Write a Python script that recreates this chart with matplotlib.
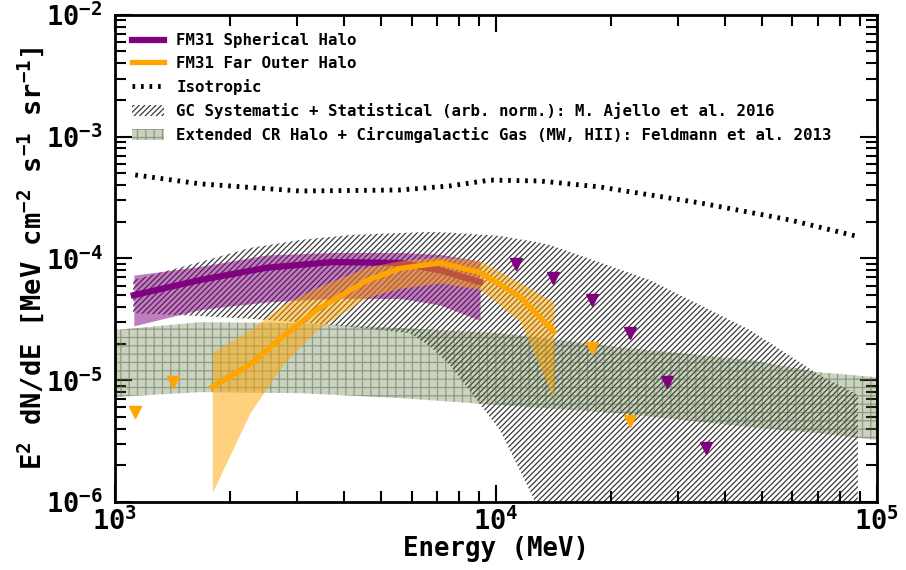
import matplotlib
matplotlib.use("Agg")
import matplotlib.pyplot as plt

# isotropic background
E_iso = [1130, 1670, 3060, 5600, 7570, 9640, 13000, 18700, 34300, 59100, 90200]
f_iso = [4.85e-4, 4.1e-4, 3.58e-4, 3.65e-4, 3.94e-4, 4.4e-4, 4.33e-4, 3.87e-4, 2.86e-4, 2.07e-4, 1.5e-4]

# FM31 spherical halo
E_sph = [1120, 1670, 2500, 3730, 5600, 7130, 9080]
f_sph = [5.0e-5, 6.65e-5, 8.4e-5, 9.35e-5, 9.2e-5, 8.0e-5, 6.4e-5]
f_sph_hi = [7.3e-5, 8.6e-5, 1.07e-4, 1.12e-4, 1.12e-4, 1.08e-4, 9.5e-5]
f_sph_lo = [2.8e-5, 3.8e-5, 4.4e-5, 4.7e-5, 4.7e-5, 4.15e-5, 3.1e-5]
E_sph_ul = [11270, 14130, 17860, 22500, 28100, 35600]
f_sph_ul = [9.0e-5, 6.9e-5, 4.56e-5, 2.44e-5, 9.7e-6, 2.78e-6]

# FM31 far outer halo
E_far = [1800, 2260, 2760, 3390, 4580, 5600, 7130, 9080, 11600, 14200]
f_far = [8.8e-6, 1.35e-5, 2.3e-5, 3.8e-5, 6.6e-5, 8.3e-5, 9.2e-5, 7.7e-5, 4.8e-5, 2.5e-5]
f_far_hi = [1.7e-5, 2.6e-5, 4.2e-5, 5.8e-5, 8.5e-5, 9.6e-5, 1.03e-4, 9.6e-5, 6.3e-5, 4.4e-5]
f_far_lo = [1.2e-6, 5.4e-6, 1.35e-5, 2.6e-5, 4.8e-5, 5.7e-5, 6.3e-5, 5.6e-5, 3.0e-5, 7.0e-6]
E_far_ul = [1128, 1420, 17860, 22500]
f_far_ul = [5.48e-6, 9.7e-6, 1.84e-5, 4.62e-6]

# GC excess band (Ajello et al. 2016)
E_gc = [1115, 1670, 2260, 3060, 4140, 5940, 6710, 7570, 10240, 12500, 13870, 25350, 46400, 70800, 89100]
f_gc_hi = [6.65e-5, 9.35e-5, 1.22e-4, 1.42e-4, 1.56e-4, 1.63e-4, 1.65e-4, 1.63e-4, 1.53e-4, 1.38e-4,
           1.29e-4, 6.65e-5, 2.59e-5, 1.1e-5, 7.6e-6]
f_gc_lo = [3.56e-5, 3.37e-5, 3.2e-5, 3.0e-5, 2.75e-5, 2.44e-5, 1.9e-5, 1.33e-5, 3.9e-6, 1.1e-6,
           5e-7, 1e-7, 1e-7, 1e-7, 1e-7]

# extended CR halo + CGM (Feldmann et al. 2013)
E_cr = [1000, 1670, 3060, 5600, 10240, 20800, 46400, 69700, 100000]
f_cr_hi = [2.59e-5, 3.0e-5, 2.95e-5, 2.69e-5, 2.44e-5, 1.88e-5, 1.47e-5, 1.17e-5, 1.06e-5]
f_cr_lo = [7.3e-6, 8.0e-6, 7.85e-6, 7.15e-6, 6.26e-6, 5.38e-6, 4.13e-6, 3.69e-6, 3.24e-6]

plt.rcParams['font.family'] = 'DejaVu Sans Mono'
plt.rcParams['font.weight'] = 'bold'
plt.rcParams['mathtext.fontset'] = 'custom'
plt.rcParams['mathtext.rm'] = 'DejaVu Sans Mono:bold'
plt.rcParams['mathtext.it'] = 'DejaVu Sans Mono:bold'
plt.rcParams['mathtext.bf'] = 'DejaVu Sans Mono:bold'
plt.rcParams['mathtext.default'] = 'rm'
plt.rcParams['hatch.linewidth'] = 0.9

fig = plt.figure(figsize=(9.06, 5.70), dpi=100)
ax = fig.add_axes([0.127, 0.119, 0.841, 0.855])

ax.fill_between(E_gc, f_gc_lo, f_gc_hi, facecolor='none', edgecolor='#3a3a3a', hatch='//////',
                linewidth=0, label='GC Systematic + Statistical (arb. norm.): M. Ajello et al. 2016', zorder=1)
ax.fill_between(E_cr, f_cr_lo, f_cr_hi, facecolor=(0.33, 0.42, 0.18, 0.3), edgecolor=(0.3, 0.4, 0.3, 0.5),
                hatch='++', linewidth=0,
                label='Extended CR Halo + Circumgalactic Gas (MW, HII): Feldmann et al. 2013', zorder=2)

ax.plot(E_iso, f_iso, color='black', lw=3.5, linestyle=(0, (0.55, 1.2)), label='Isotropic', zorder=3)

ax.fill_between(E_sph, f_sph_lo, f_sph_hi, color='purple', alpha=0.5, linewidth=0, zorder=4)
ax.plot(E_sph, f_sph, color='purple', lw=4.5, label='FM31 Spherical Halo', zorder=5)
ax.fill_between(E_far, f_far_lo, f_far_hi, color='orange', alpha=0.5, linewidth=0, zorder=6)
ax.plot(E_far, f_far, color='orange', lw=3.8, label='FM31 Far Outer Halo', zorder=7)

ax.plot(E_sph_ul, f_sph_ul, 'v', color='purple', ms=9, zorder=8)
ax.plot(E_far_ul, f_far_ul, 'v', color='orange', ms=9, zorder=8)

ax.set_xscale('log')
ax.set_yscale('log')
ax.set_xlim(1e3, 1e5)
ax.set_ylim(1e-6, 1e-2)
ax.set_xlabel('Energy (MeV)', fontsize=18.5, fontweight='bold', labelpad=0)
ax.set_ylabel(r'E$^{2}$ dN/dE [MeV cm$^{-2}$ s$^{-1}$ sr$^{-1}$]', fontsize=19.5, fontweight='bold',
              labelpad=-1)

ax.tick_params(which='both', direction='in', top=True, right=True, width=1.5)
ax.tick_params(which='major', length=12, labelsize=19.5)
ax.tick_params(axis='x', which='major', pad=4)
ax.tick_params(axis='y', which='major', pad=9)
ax.tick_params(which='minor', length=8)
for s in ax.spines.values():
    s.set_linewidth(2)

h, l = ax.get_legend_handles_labels()
order = [3, 4, 2, 0, 1]
ax.legend([h[i] for i in order], [l[i] for i in order], loc='upper left', frameon=False,
          fontsize=11.3, labelspacing=0.5, handlelength=2.0, borderaxespad=0.7)

fig.savefig('out.png', dpi=100)
